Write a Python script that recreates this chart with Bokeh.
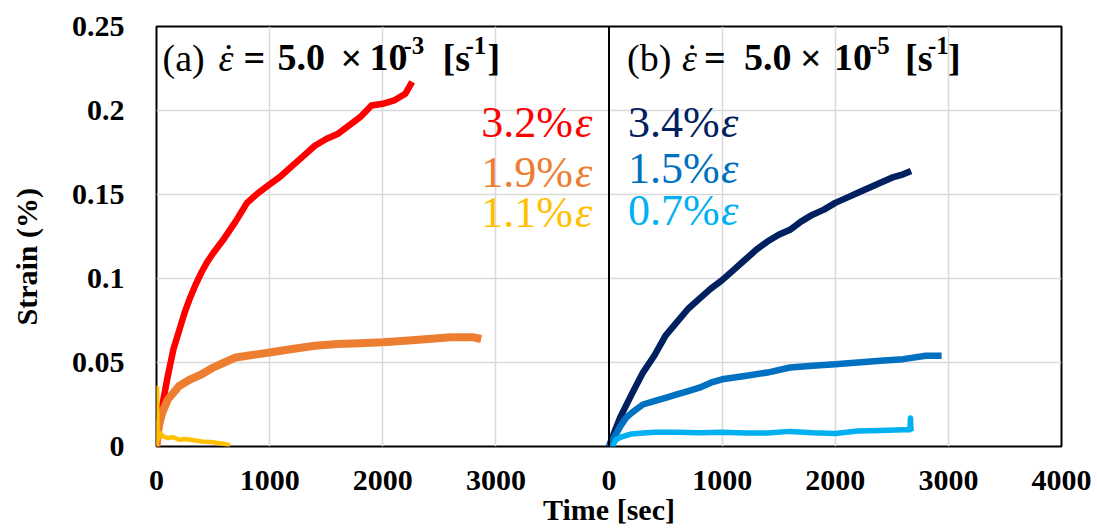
from bokeh.embed import file_html
from bokeh.models import FixedTicker, Label, Span, Title
from bokeh.plotting import figure
from bokeh.resources import INLINE

# ---------------------------------------------------------------------------
# Creep strain [%] against holding time [sec]
# (a) loading strain rate 5.0e-3 1/s, (b) 5.0e-5 1/s
# ---------------------------------------------------------------------------

# (a) 3.2 % holding strain
a32_time = [0, 25, 50, 100, 150, 200, 250, 300, 350, 400, 450, 500, 600, 700,
            800, 900, 1000, 1100, 1200, 1300, 1400, 1500, 1600, 1700, 1800,
            1900, 2000, 2100, 2200, 2260]
a32_strain = [0, 0.012, 0.024, 0.042, 0.058, 0.069, 0.080, 0.089, 0.097, 0.104,
              0.110, 0.115, 0.124, 0.134, 0.145, 0.151, 0.156, 0.161, 0.167,
              0.173, 0.179, 0.183, 0.186, 0.191, 0.196, 0.203, 0.204, 0.206,
              0.210, 0.217]

# (a) 1.9 % holding strain
a19_time = [0, 20, 50, 100, 150, 200, 300, 400, 500, 600, 700, 800, 900, 1000,
            1200, 1400, 1600, 1800, 2000, 2200, 2400, 2600, 2800, 2870]
a19_strain = [0, 0.012, 0.020, 0.028, 0.032, 0.036, 0.040, 0.043, 0.047, 0.050,
              0.053, 0.054, 0.055, 0.056, 0.058, 0.060, 0.061, 0.0615, 0.062,
              0.063, 0.064, 0.065, 0.065, 0.064]

# (a) 1.1 % holding strain
a11_time = [0, 5, 10, 30, 60, 100, 150, 200, 250, 300, 400, 500, 600, 650]
a11_strain = [0, 0.035, 0.004, 0.008, 0.006, 0.005, 0.0055, 0.004, 0.0045,
              0.004, 0.003, 0.0025, 0.0015, 0.0008]

# (b) 3.4 % holding strain
b34_time = [0, 50, 100, 200, 300, 400, 500, 600, 700, 800, 900, 1000, 1100,
            1200, 1300, 1400, 1500, 1600, 1700, 1800, 1900, 2000, 2100, 2200,
            2300, 2400, 2500, 2600, 2670]
b34_strain = [0, 0.009, 0.0175, 0.031, 0.044, 0.054, 0.066, 0.074, 0.082,
              0.088, 0.094, 0.099, 0.105, 0.111, 0.117, 0.122, 0.126, 0.129,
              0.134, 0.138, 0.141, 0.145, 0.148, 0.151, 0.154, 0.157, 0.160,
              0.162, 0.164]

# (b) 1.5 % holding strain
b15_time = [0, 50, 100, 150, 200, 300, 400, 500, 600, 700, 800, 900, 1000,
            1200, 1400, 1600, 1800, 2000, 2200, 2400, 2600, 2800, 2940]
b15_strain = [0, 0.006, 0.012, 0.017, 0.020, 0.025, 0.027, 0.029, 0.031, 0.033,
              0.035, 0.038, 0.040, 0.042, 0.044, 0.047, 0.048, 0.049, 0.050,
              0.051, 0.052, 0.054, 0.054]

# (b) 0.7 % holding strain
b07_time = [30, 60, 100, 200, 300, 400, 600, 800, 1000, 1200, 1400, 1600, 1800,
            2000, 2200, 2400, 2600, 2660, 2665, 2670]
b07_strain = [0, 0.004, 0.0055, 0.0075, 0.0080, 0.0085, 0.0085, 0.0082, 0.0085,
              0.0080, 0.0080, 0.0090, 0.0082, 0.0078, 0.0092, 0.0095, 0.0100,
              0.0100, 0.0170, 0.0090]

# axis ticks; the two panels sit side by side on one time axis
x_ticks = [0, 1000, 2000, 3000, 4000, 5000, 6000, 7000, 8000]
x_tick_labels = ["0", "1000", "2000", "3000", "0", "1000", "2000", "3000", "4000"]
y_ticks = [0, 0.05, 0.1, 0.15, 0.2, 0.25]
y_tick_labels = ["0", "0.05", "0.1", "0.15", "0.2", "0.25"]

PANEL_SPAN = 4000  # each panel covers 0..4000 sec

SERIES_A = [
    (a32_time, a32_strain, "#FF0000", "3.2%", 6.5),
    (a19_time, a19_strain, "#ED7D31", "1.9%", 8),
    (a11_time, a11_strain, "#FFC000", "1.1%", 4.5),
]
SERIES_B = [
    (b34_time, b34_strain, "#002060", "3.4%", 6.5),
    (b15_time, b15_strain, "#0070C0", "1.5%", 6.5),
    (b07_time, b07_strain, "#00B0F0", "0.7%", 5.5),
]

SERIF = "Liberation Serif"

p = figure(
    width=1097, height=529,
    x_range=(0, 2 * PANEL_SPAN), y_range=(0, 0.25),
    output_backend="svg", toolbar_location=None,
    min_border_left=156, min_border_right=36,
    min_border_top=26, min_border_bottom=83,
)
p.background_fill_color = "white"
p.border_fill_color = "white"
p.outline_line_color = "black"
p.outline_line_width = 2
p.outline_line_alpha = 1

# grid
p.xgrid.ticker = FixedTicker(ticks=[1000, 2000, 3000, 5000, 6000, 7000])
p.ygrid.ticker = FixedTicker(ticks=y_ticks[1:-1])
for g in (p.xgrid, p.ygrid):
    g.grid_line_color = "#d9d9d9"
    g.grid_line_width = 1.5

# axes
p.xaxis.ticker = FixedTicker(ticks=x_ticks)
p.xaxis.major_label_overrides = dict(zip(x_ticks, x_tick_labels))
p.yaxis.ticker = FixedTicker(ticks=y_ticks)
p.yaxis.major_label_overrides = dict(zip(y_ticks, y_tick_labels))
for ax in (p.xaxis, p.yaxis):
    ax.axis_line_color = None
    ax.major_tick_line_color = None
    ax.minor_tick_line_color = None
    ax.major_label_text_font = SERIF
    ax.major_label_text_font_style = "bold"
    ax.major_label_text_font_size = "30px"
    ax.major_label_text_color = "black"
p.xaxis.major_label_standoff = 18
p.yaxis.major_label_standoff = 26

p.xaxis.axis_label = "Time [sec]"
p.xaxis.axis_label_text_font = SERIF
p.xaxis.axis_label_text_font_style = "bold"
p.xaxis.axis_label_text_font_size = "30px"
p.xaxis.axis_label_text_color = "black"
p.xaxis.axis_label_standoff = 0

# y-axis title: an empty gap panel next to the tick labels, then the title
# itself, set a little below the middle of the frame
p.add_layout(Title(text=" ", text_font_size="1px", standoff=23), "left")
p.add_layout(Title(
    text="Strain (%)", text_font=SERIF, text_font_style="bold",
    text_font_size="30px", text_color="black",
    align="left", offset=121, standoff=0,
), "left")

# divider between panels
p.add_layout(Span(location=PANEL_SPAN, dimension="height",
                  line_color="black", line_width=2))

# curves
for t, s, color, _, lw in SERIES_A:
    p.line(t, s, line_color=color, line_width=lw, line_join="round")
for t, s, color, _, lw in SERIES_B:
    p.line([v + PANEL_SPAN for v in t], s, line_color=color, line_width=lw,
           line_join="round")


def text(x, dx, dy, txt, size, style="normal", color="black", align="left"):
    p.add_layout(Label(
        x=x, y=0.25, x_offset=dx, y_offset=-dy, text=txt,
        text_font=SERIF, text_font_style=style, text_font_size=f"{size}px",
        text_color=color, text_align=align, text_baseline="alphabetic",
    ))


# panel headings: strain rate of each test
def heading(x, tag, exponent, offs):
    big, sup = 38, 25
    base, sup_base = 31, 19
    text(x, offs[0], base, tag, big)
    text(x, offs[1], base, "\u03b5", big, "italic")
    text(x, offs[1] + 10, base - 1, "\u02d9", big, align="center")
    text(x, offs[2], base, "=", big, "bold")
    text(x, offs[3], base, "5.0", big, "bold")
    text(x, offs[4], base, "\u00d7", big, "bold")
    text(x, offs[5], base, "10", big, "bold")
    text(x, offs[6], sup_base, exponent, sup, "bold")
    text(x, offs[7], base, "[s", big, "bold")
    text(x, offs[8], sup_base, "-1", sup, "bold")
    text(x, offs[9], base, "]", big, "bold")


heading(0, "(a)", "-3", [6, 62, 87, 121, 184, 213, 247, 286, 309, 331])
heading(PANEL_SPAN, "(b)", "-5", [18, 73, 95, 135, 191, 225, 260, 296, 319, 339])

# holding-strain tags next to each curve set
rows_a = [96, 146, 186]
rows_b = [96, 142, 184]
for (_, _, color, tag, _), dy in zip(SERIES_A, rows_a):
    text(PANEL_SPAN, -36, dy, tag, 44, color=color, align="right")
    text(PANEL_SPAN, -34, dy, "\u03b5", 44, "italic", color=color)
for (_, _, color, tag, _), dy in zip(SERIES_B, rows_b):
    text(PANEL_SPAN, 19, dy, tag, 44, color=color)
    text(PANEL_SPAN, 112, dy, "\u03b5", 44, "italic", color=color)

open("out.html", "w").write(file_html(p, INLINE))
